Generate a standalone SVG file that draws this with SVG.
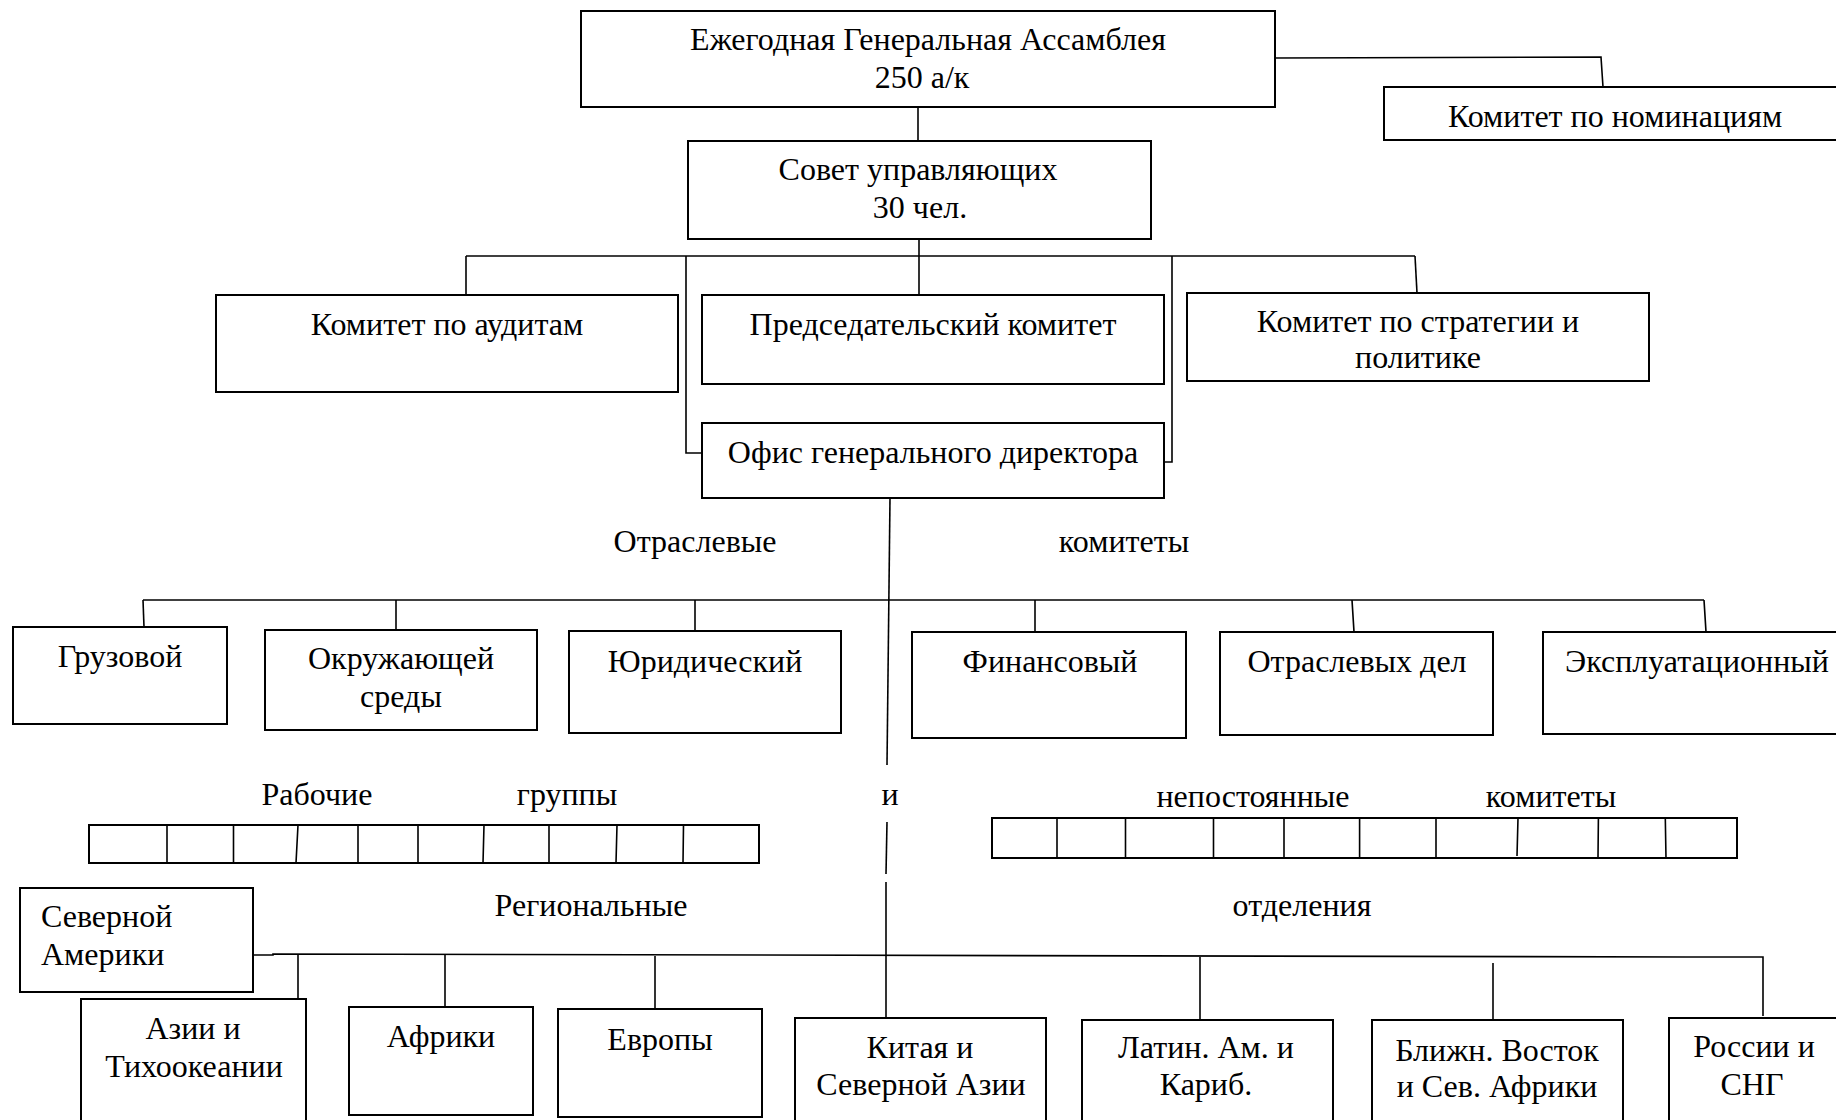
<svg xmlns="http://www.w3.org/2000/svg" width="1836" height="1120" viewBox="0 0 1836 1120">
<style>
.box{fill:#fff;stroke:#000;stroke-width:2}
.ln{fill:none;stroke:#000;stroke-width:1.6}
.strip{fill:none;stroke:#000;stroke-width:2}
text{font-family:"Liberation Serif","Times New Roman",serif;font-size:32px;fill:#000}
.c{text-anchor:middle}
</style>
<rect width="1836" height="1120" fill="#fff"/>
<g id="connectors">
<polyline class="ln" points="1275,58 1601,57 1603,87"/>
<line class="ln" x1="918" y1="107" x2="918" y2="141"/>
<line class="ln" x1="919" y1="239" x2="919" y2="295"/>
<line class="ln" x1="466" y1="256" x2="1415" y2="256"/>
<line class="ln" x1="466" y1="256" x2="466" y2="295"/>
<line class="ln" x1="1415" y1="256" x2="1417" y2="293"/>
<polyline class="ln" points="686,256 686,453 701,453"/>
<polyline class="ln" points="1172,256 1172,462 1164,462"/>
<line class="ln" x1="890" y1="498" x2="887" y2="765"/>
<line class="ln" x1="887" y1="822" x2="886" y2="874"/>
<line class="ln" x1="886" y1="882" x2="886" y2="1018"/>
<line class="ln" x1="143" y1="600" x2="1704" y2="600"/>
<line class="ln" x1="143" y1="600" x2="144" y2="627"/>
<line class="ln" x1="396" y1="600" x2="396" y2="630"/>
<line class="ln" x1="695" y1="600" x2="695" y2="631"/>
<line class="ln" x1="1035" y1="600" x2="1035" y2="632"/>
<line class="ln" x1="1352" y1="600" x2="1354" y2="632"/>
<line class="ln" x1="1704" y1="600" x2="1706" y2="632"/>
<polyline class="ln" points="253,955 273,955 273,954 1686,957 1763,957 1763,1016"/>
<line class="ln" x1="298" y1="954" x2="298" y2="999"/>
<line class="ln" x1="445" y1="955" x2="445" y2="1007"/>
<line class="ln" x1="655" y1="956" x2="655" y2="1009"/>
<line class="ln" x1="1200" y1="957" x2="1200" y2="1020"/>
<line class="ln" x1="1493" y1="963" x2="1493" y2="1020"/>
</g>
<g id="assembly"><rect class="box" x="581" y="11" width="694" height="96"/>
<text class="c" x="928" y="50">Ежегодная Генеральная Ассамблея</text>
<text class="c" x="922" y="88">250 а/к</text></g>
<g id="nominations"><rect class="box" x="1384" y="87" width="460" height="53"/>
<text class="c" x="1615" y="127">Комитет по номинациям</text></g>
<g id="council"><rect class="box" x="688" y="141" width="463" height="98"/>
<text class="c" x="918" y="180">Совет управляющих</text>
<text class="c" x="920" y="218">30 чел.</text></g>
<g id="audit"><rect class="box" x="216" y="295" width="462" height="97"/>
<text class="c" x="447" y="335">Комитет по аудитам</text></g>
<g id="chairman"><rect class="box" x="702" y="295" width="462" height="89"/>
<text class="c" x="933" y="335">Председательский комитет</text></g>
<g id="strategy"><rect class="box" x="1187" y="293" width="462" height="88"/>
<text class="c" x="1418" y="332">Комитет по стратегии и</text>
<text class="c" x="1418" y="368">политике</text></g>
<g id="office"><rect class="box" x="702" y="423" width="462" height="75"/>
<text class="c" x="933" y="463">Офис генерального директора</text></g>
<g id="labels">
<text class="c" x="695" y="552">Отраслевые</text>
<text class="c" x="1124" y="552">комитеты</text>
<text class="c" x="317" y="805">Рабочие</text>
<text class="c" x="567" y="805">группы</text>
<text class="c" x="890" y="805">и</text>
<text class="c" x="1253" y="807">непостоянные</text>
<text class="c" x="1551" y="807">комитеты</text>
<text class="c" x="591" y="916">Региональные</text>
<text class="c" x="1302" y="916">отделения</text>
</g>
<g id="cargo"><rect class="box" x="13" y="627" width="214" height="97"/>
<text class="c" x="120" y="667">Грузовой</text></g>
<g id="environment"><rect class="box" x="265" y="630" width="272" height="100"/>
<text class="c" x="401" y="669">Окружающей</text>
<text class="c" x="401" y="707">среды</text></g>
<g id="legal"><rect class="box" x="569" y="631" width="272" height="102"/>
<text class="c" x="705" y="672">Юридический</text></g>
<g id="finance"><rect class="box" x="912" y="632" width="274" height="106"/>
<text class="c" x="1050" y="672">Финансовый</text></g>
<g id="industry"><rect class="box" x="1220" y="632" width="273" height="103"/>
<text class="c" x="1357" y="672">Отраслевых дел</text></g>
<g id="operations"><rect class="box" x="1543" y="632" width="300" height="102"/>
<text class="c" x="1697" y="672">Эксплуатационный</text></g>
<g id="working-groups">
<rect class="strip" x="89" y="825" width="670" height="38"/>
<path class="ln" d="M167,825V863M233.5,825V863M298,825L296,863M358,825V863M418,825V863M484,825L483,863M549,825V863M617,825L616,863M683.5,825L683,863"/>
</g>
<g id="ad-hoc">
<rect class="strip" x="992" y="818" width="745" height="40"/>
<path class="ln" d="M1057,818V858M1125.5,818V858M1213.5,818V858M1284,818V858M1359.6,818V858M1436,818V858M1518,818L1517,856M1598.4,818L1598,858M1665.3,818L1666,858"/>
</g>
<g id="north-america"><rect class="box" x="20" y="888" width="233" height="104"/>
<text x="41" y="927">Северной</text>
<text x="41" y="965">Америки</text></g>
<g id="asia"><rect class="box" x="81" y="999" width="225" height="130"/>
<text class="c" x="193" y="1039">Азии и</text>
<text class="c" x="194" y="1077">Тихоокеании</text></g>
<g id="africa"><rect class="box" x="349" y="1007" width="184" height="108"/>
<text class="c" x="441" y="1047">Африки</text></g>
<g id="europe"><rect class="box" x="558" y="1009" width="204" height="108"/>
<text class="c" x="660" y="1050">Европы</text></g>
<g id="china"><rect class="box" x="795" y="1018" width="251" height="110"/>
<text class="c" x="920" y="1058">Китая и</text>
<text class="c" x="921" y="1095">Северной Азии</text></g>
<g id="latam"><rect class="box" x="1082" y="1020" width="251" height="110"/>
<text class="c" x="1206" y="1058">Латин. Ам. и</text>
<text class="c" x="1206" y="1095">Кариб.</text></g>
<g id="mena"><rect class="box" x="1372" y="1020" width="251" height="110"/>
<text class="c" x="1497" y="1061">Ближн. Восток</text>
<text class="c" x="1497" y="1097">и Сев. Африки</text></g>
<g id="russia"><rect class="box" x="1669" y="1018" width="180" height="110"/>
<text class="c" x="1754" y="1057">России и</text>
<text class="c" x="1752" y="1095">СНГ</text></g>
</svg>
